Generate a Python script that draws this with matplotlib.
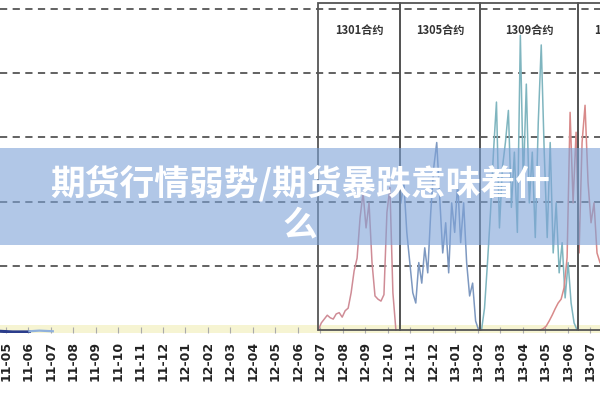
import numpy as np
import matplotlib
matplotlib.use("Agg")
import matplotlib.pyplot as plt
from matplotlib.patches import Rectangle

plt.rcParams['font.family'] = ['Noto Sans CJK SC', 'DejaVu Sans']

# month labels along the bottom (2011-05 .. 2013-07)
months = ['11-05', '11-06', '11-07', '11-08', '11-09', '11-10', '11-11', '11-12',
          '12-01', '12-02', '12-03', '12-04', '12-05', '12-06', '12-07', '12-08',
          '12-09', '12-10', '12-11', '12-12', '13-01', '13-02', '13-03', '13-04',
          '13-05', '13-06', '13-07']

# contract windows (month index) and their names
contracts = ['1301合约', '1305合约', '1309合约', '1401合约']
win_start = [13.9, 17.54, 21.12, 25.46]
win_end = [17.54, 21.12, 25.46, 27.5]

# series (start month, end month, values)
early_t = [-0.25, 0.3, 0.7, 1.06]
early_v = [-0.02, -0.03, -0.03, -0.03]
early2_t = [1.06, 1.5, 2.1]
early2_v = [-0.02, -0.01, -0.02]

c1301 = [0, 0.11, 0.17, 0.23, 0.19, 0.17, 0.25, 0.27, 0.2, 0.3, 0.34, 0.58, 0.92,
         1.12, 1.75, 2.14, 1.59, 1.98, 1.05, 0.53, 0.48, 0.45, 0.55, 1.83, 2.22, 0.58, 0]
c1305 = [1.98, 2.30, 1.52, 1.05, 0.58, 0.42, 1.05, 0.73, 1.28, 0.89, 1.83, 2.53, 2.92,
         2.06, 1.20, 1.67, 0.89, 1.98, 1.52, 2.30, 1.36, 1.98, 1.05, 0.53, 0.73, 0.14, 0]
c1309 = [0, 0.34, 1.05, 1.83, 2.77, 3.55, 1.59, 2.53, 2.92, 3.42, 1.91, 2.77, 1.52,
         4.59, 2.30, 3.83, 1.98, 2.77, 1.44, 3.23, 4.44, 2.77, 1.44, 2.92, 1.20, 1.98,
         0.89, 1.36, 0.50, 1.05, 0.42, 0.11, 0]
c1401 = [0, 0.02, 0.06, 0.14, 0.23, 0.33, 0.42, 0.48, 0.66, 1.13, 3.39, 1.98, 3.08,
         1.20, 2.92, 3.50, 2.30, 1.67, 1.98, 1.20, 1.05]
span1301 = (13.91, 17.36)
span1305 = (17.58, 21.04)
span1309 = (21.17, 25.42)
span1401 = (23.78, 26.44)

fig = plt.figure(figsize=(6, 4), dpi=100)
ax = fig.add_axes([0, 0.1675, 1, 0.8325])

# pale yellow band along the bottom
ax.fill_between([-0.3, 26.6], -0.06, 0.07, color='#f6f4d2', zorder=1, lw=0)

for v in range(1, 6):
    ax.axhline(v, color='#555555', lw=1.3, ls=(0, (4, 3)), zorder=2)

ax.plot(early_t, early_v, color='#2b3d8c', lw=2.2, zorder=3)
ax.plot(early2_t, early2_v, color='#8fb0dc', lw=1.6, zorder=3)

series = [(c1301, span1301, '#cf8c96'), (c1305, span1305, '#7d98c0'),
          (c1309, span1309, '#7fb5bf'), (c1401, span1401, '#d88a8a')]
for vals, span, col in series:
    t = np.linspace(span[0], span[1], len(vals))
    ax.plot(t, vals, color=col, lw=1.1, zorder=4)

for name, a, b in zip(contracts, win_start, win_end):
    ax.add_patch(Rectangle((a, 0), b - a, 5.09, fill=False, ec='#555555', lw=1.3, zorder=5))
    last = b > 27
    ax.text(a + 0.7 if last else (a + b) / 2, 4.67, name, ha='left' if last else 'center',
            va='center', fontsize=8, fontweight='bold', color='#333333', zorder=6)

ax.set_xlim(-0.25, 26.44)
ax.set_ylim(-0.047, 5.14)
ax.set_xticks(range(len(months)))
ax.set_xticklabels(months, rotation=90, fontsize=9, fontweight='bold', color='#222222',
                   family='DejaVu Sans')
ax.tick_params(axis='x', direction='in', length=4, color='#aaaaaa', pad=6)
ax.set_yticks([])
for s in ax.spines.values():
    s.set_visible(False)

# title banner over the chart
fig.patches.append(Rectangle((0, 0.3875), 1, 0.2425, transform=fig.transFigure,
                             color='#7ea3d8', alpha=0.6, zorder=10, lw=0))
fig.text(0.5, 0.49, '期货行情弱势/期货暴跌意味着什\n么', ha='center', va='center',
         multialignment='center', fontsize=25, fontweight='bold', color='white',
         linespacing=1.2, zorder=11)

fig.savefig('out.png', dpi=100)
